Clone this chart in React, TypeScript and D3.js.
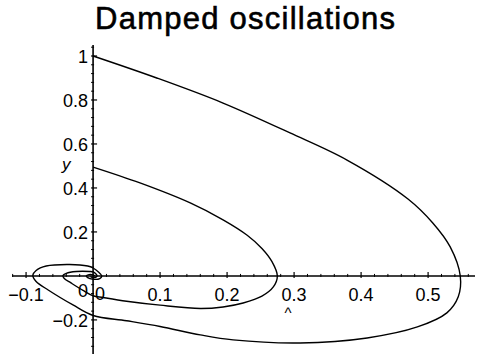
import * as d3 from "d3";

// phase curves, [x, y]
const outerCurve: [number, number][] = [
  [0, 1.0], [0.095, 0.9], [0.194, 0.786], [0.294, 0.65], [0.379, 0.527],
  [0.47, 0.35], [0.507, 0.241], [0.533, 0.132], [0.548, 0], [0.545, -0.095],
  [0.528, -0.168], [0.484, -0.232], [0.409, -0.282], [0.309, -0.305],
  [0.209, -0.291], [0.16, -0.268], [0.1, -0.23], [0.05, -0.204], [0, -0.18],
  [-0.03, -0.132], [-0.067, -0.064], [-0.085, -0.025], [-0.09, 0.003],
  [-0.085, 0.025], [-0.07, 0.045], [-0.035, 0.052], [-0.008, 0.045],
  [0, 0.036], [0.008, 0.018], [0.013, 0], [0.01, -0.012], [0, -0.015],
  [-0.008, -0.008], [-0.01, 0], [-0.006, 0.006], [0, 0.005], [0.003, 0]
];

const innerCurve: [number, number][] = [
  [0, 0.495], [0.07, 0.423], [0.145, 0.332], [0.194, 0.255], [0.23, 0.185],
  [0.252, 0.125], [0.267, 0.065], [0.275, 0], [0.269, -0.05], [0.252, -0.092],
  [0.224, -0.123], [0.194, -0.141], [0.16, -0.148], [0.1, -0.133], [0.05, -0.115],
  [0.015, -0.098], [0, -0.09], [-0.015, -0.066], [-0.033, -0.032],
  [-0.043, -0.012], [-0.045, 0.002], [-0.04, 0.012], [-0.025, 0.02],
  [-0.005, 0.02], [0, 0.018], [0.004, 0.01], [0.006, 0], [0.004, -0.006],
  [0, -0.007], [-0.004, -0.003]
];

const xTicks = [-0.1, 0.1, 0.2, 0.3, 0.4, 0.5];
const yTicks = [-0.2, 0.2, 0.4, 0.6, 0.8, 1];
const title = "Damped oscillations";

const width = 478;
const height = 354;

export default function App() {
  const x = d3.scaleLinear().domain([-0.121, 0.57]).range([12, 475]);
  const y = d3.scaleLinear().domain([-0.355, 1.05]).range([354, 45]);

  const line = d3.line<[number, number]>()
    .x(d => x(d[0]))
    .y(d => y(d[1]))
    .curve(d3.curveCatmullRom.alpha(0.5));

  const xMinor = d3.range(-0.12, 0.571, 0.02).filter(v => Math.abs(Math.round(v * 10) - v * 10) > 1e-6);
  const yMinor = d3.range(-0.36, 1.05, 0.04).filter(v => Math.abs(Math.round(v * 5) - v * 5) > 1e-6);

  const font = "'Liberation Sans', Arial, sans-serif";
  const fmt = (v: number) => (v === 1 ? "1" : d3.format(".1f")(v));

  return (
    <svg width={width} height={height} style={{ position: "absolute", left: 0, top: 0, background: "#fff" }}>
      <text x={95} y={29} fontFamily={font} fontSize={31} textLength={300} lengthAdjust="spacing"
        fill="#000" stroke="#000" strokeWidth={0.6}>
        {title}
      </text>

      {/* axes */}
      <line x1={x(-0.121)} x2={x(0.57)} y1={y(0)} y2={y(0)} stroke="#000" strokeWidth={1.6} />
      <line x1={x(0)} x2={x(0)} y1={y(1.05)} y2={y(-0.355)} stroke="#000" strokeWidth={1.6} />

      {xMinor.map((v, i) => (
        <line key={"xm" + i} x1={x(v)} x2={x(v)} y1={y(0) - 2} y2={y(0) + 1} stroke="#000" strokeWidth={1} />
      ))}
      {yMinor.map((v, i) => (
        <line key={"ym" + i} x1={x(0) - 2} x2={x(0) + 1} y1={y(v)} y2={y(v)} stroke="#000" strokeWidth={1} />
      ))}

      {xTicks.map(v => (
        <g key={"xt" + v}>
          <line x1={x(v)} x2={x(v)} y1={y(0) - 4} y2={y(0) + 2} stroke="#000" strokeWidth={1.2} />
          <text x={x(v)} y={y(0) + 25} textAnchor="middle" fontFamily={font} fontSize={18} fill="#000">
            {fmt(v)}
          </text>
        </g>
      ))}
      {yTicks.map(v => (
        <g key={"yt" + v}>
          <line x1={x(0) - 2} x2={x(0) + 4} y1={y(v)} y2={y(v)} stroke="#000" strokeWidth={1.2} />
          <text x={x(0) - 5} y={y(v) + 7} textAnchor="end" fontFamily={font} fontSize={18} fill="#000">
            {fmt(v)}
          </text>
        </g>
      ))}

      {/* zero labels */}
      <text x={x(0) - 5} y={y(0) + 21} textAnchor="end" fontFamily={font} fontSize={18} fill="#000">0</text>
      <text x={x(0) + 2} y={y(0) + 24} fontFamily={font} fontSize={18} fill="#000">0</text>

      {/* axis labels */}
      <text x={62} y={170} fontFamily={font} fontSize={17} fontStyle="italic" fill="#000">y</text>
      <text x={288} y={318} textAnchor="middle" fontFamily={font} fontSize={15} fill="#000">^</text>

      <path d={line(outerCurve) ?? ""} fill="none" stroke="#000" strokeWidth={1.4} />
      <path d={line(innerCurve) ?? ""} fill="none" stroke="#000" strokeWidth={1.4} />
    </svg>
  );
}
